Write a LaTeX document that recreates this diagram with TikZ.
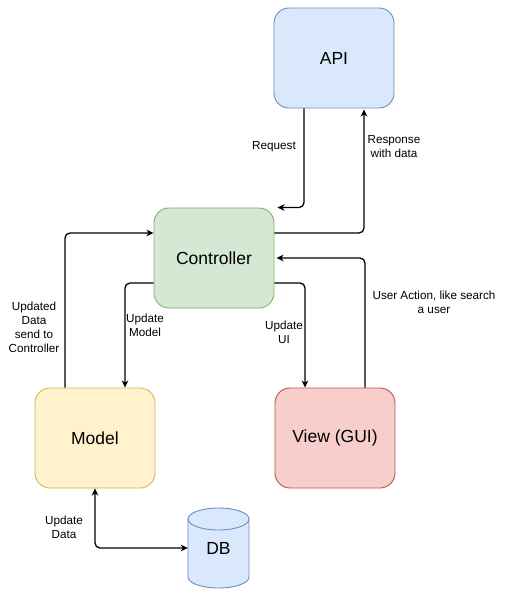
\documentclass[tikz,border=0pt]{standalone}
\usepackage{fontspec}
\setmainfont{Liberation Sans}
\usetikzlibrary{arrows.meta,positioning,calc}
\definecolor{bluefill}{HTML}{DAE8FC}\definecolor{bluedraw}{HTML}{6C8EBF}
\definecolor{greenfill}{HTML}{D5E8D4}\definecolor{greendraw}{HTML}{82B366}
\definecolor{yellowfill}{HTML}{FFF2CC}\definecolor{yellowdraw}{HTML}{D6B656}
\definecolor{redfill}{HTML}{F8CECC}\definecolor{reddraw}{HTML}{B85450}
\tikzset{
  box/.style={rectangle,rounded corners=15pt,minimum width=120pt,minimum height=100pt,line width=0.9pt,font=\fontsize{17.5}{21}\selectfont,inner sep=0pt},
  conn/.style={line width=1.3pt,rounded corners=5pt,-{Stealth[length=7pt,width=6.5pt,inset=2pt]}},
  conn2/.style={line width=1.3pt,rounded corners=5pt,{Stealth[length=7pt,width=6.5pt,inset=2pt]}-{Stealth[length=7pt,width=6.5pt,inset=2pt]}},
  lbl/.style={align=center,font=\fontsize{11.7}{14}\selectfont,inner sep=0pt}
}
\begin{document}
\begin{tikzpicture}[x=1pt,y=-1pt]
\useasboundingbox[fill=white] (0,0) rectangle (517,601);
\node[box,fill=bluefill,draw=bluedraw] (api) at (334,58) {API};
\node[box,fill=greenfill,draw=greendraw] (ctrl) at (214,258) {Controller};
\node[box,fill=yellowfill,draw=yellowdraw] (model) at (95,438) {Model};
\node[box,fill=redfill,draw=reddraw] (view) at (335,438) {View (GUI)};
% DB cylinder
\draw[fill=bluefill,draw=bluedraw,line width=0.9pt] (188,519) -- (188,577) arc[start angle=180,end angle=0,x radius=30.5,y radius=11] -- (249,519) arc[start angle=0,end angle=-180,x radius=30.5,y radius=11] -- cycle;
\draw[draw=bluedraw,line width=0.9pt] (188,519) arc[start angle=180,end angle=0,x radius=30.5,y radius=11];
\node[rectangle,minimum width=61pt,minimum height=80pt,inner sep=0pt,font=\fontsize{17.5}{21}\selectfont] (db) at (218.5,548) {\raisebox{-12pt}{DB}};
% connectors
\draw[conn] ([xshift=-30pt]api.south) |- ([xshift=3pt]ctrl.north east);
\draw[conn] ([yshift=25pt]ctrl.east) -| ([xshift=30pt,yshift=-1pt]api.south);
\draw[conn] ([xshift=30pt]view.north) |- ([xshift=2pt]ctrl.east);
\draw[conn] ([yshift=-25pt]ctrl.east) -| ([xshift=-30pt]view.north);
\draw[conn] ([yshift=-25pt]ctrl.west) -| ([xshift=30pt]model.north);
\draw[conn] ([xshift=-30pt]model.north) |- ([yshift=25pt]ctrl.west);
\draw[conn2] (db.west) -| (model.south);
% labels
\node[lbl] (lreq) at (274,147) {Request};
\node[lbl] (lresp) at (394,147) {Response\\with data};
\node[lbl] (luser) at (434,302) {User Action, like search\\a user};
\node[lbl] (lui) at (284,332) {Update\\UI};
\node[lbl] (lmodel) at (145,325) {Update\\Model};
\node[lbl] (lupd) at (34,327) {Updated\\Data\\send to\\Controller};
\node[lbl] (ldata) at (64,527) {Update\\Data};
\end{tikzpicture}
\end{document}
